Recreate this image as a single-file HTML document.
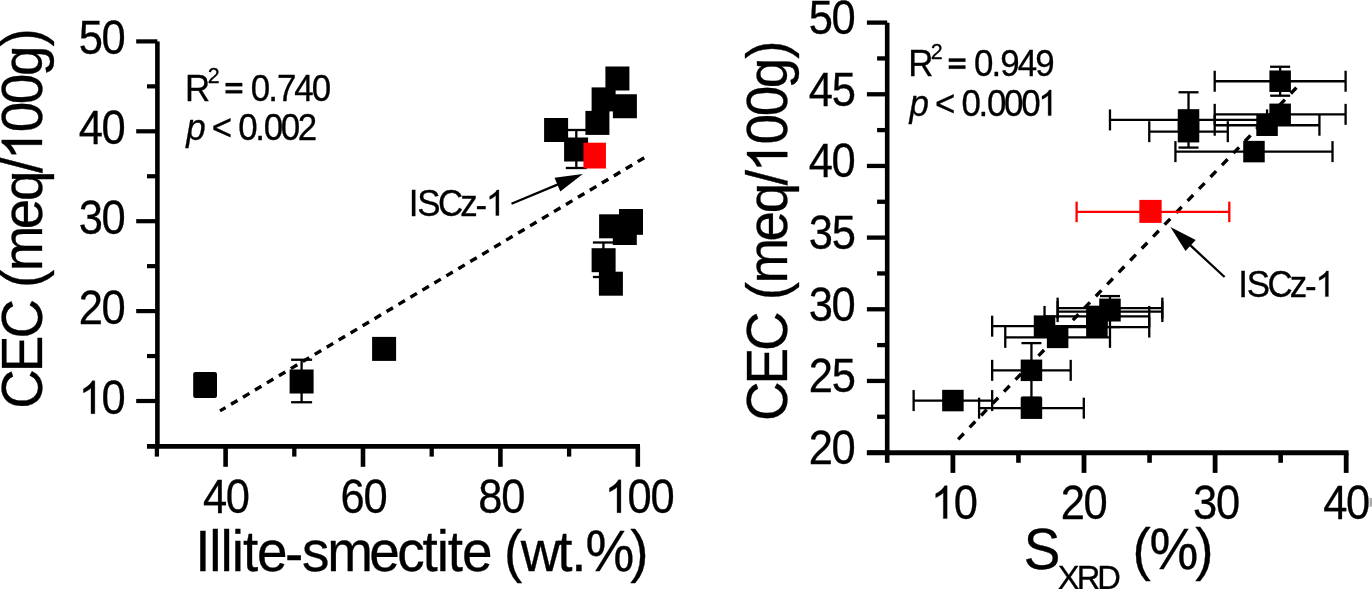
<!DOCTYPE html>
<html><head><meta charset="utf-8"><title>CEC plots</title>
<style>html,body{margin:0;padding:0;background:#fff;overflow:hidden}svg{display:block;will-change:transform}text{font-family:"Liberation Sans",sans-serif;fill:#000}</style>
</head><body>
<svg width="1372" height="589" viewBox="0 0 1372 589">
<rect x="0" y="0" width="1372" height="589" fill="#fff"/>
<g id="left">
<line x1="157.4" y1="41.6" x2="157.4" y2="448.5" stroke="#000" stroke-width="4.6" />
<line x1="147" y1="446.4" x2="640" y2="446.4" stroke="#000" stroke-width="4.8" />
<line x1="136.2" y1="401" x2="157.4" y2="401" stroke="#000" stroke-width="4.2" />
<line x1="136.2" y1="311.1" x2="157.4" y2="311.1" stroke="#000" stroke-width="4.2" />
<line x1="136.2" y1="221.2" x2="157.4" y2="221.2" stroke="#000" stroke-width="4.2" />
<line x1="136.2" y1="131.3" x2="157.4" y2="131.3" stroke="#000" stroke-width="4.2" />
<line x1="136.2" y1="41.4" x2="157.4" y2="41.4" stroke="#000" stroke-width="4.2" />
<line x1="147" y1="356.05" x2="157.4" y2="356.05" stroke="#000" stroke-width="4.2" />
<line x1="147" y1="266.15" x2="157.4" y2="266.15" stroke="#000" stroke-width="4.2" />
<line x1="147" y1="176.25" x2="157.4" y2="176.25" stroke="#000" stroke-width="4.2" />
<line x1="147" y1="86.35" x2="157.4" y2="86.35" stroke="#000" stroke-width="4.2" />
<line x1="225.6" y1="446.4" x2="225.6" y2="466.8" stroke="#000" stroke-width="4.6" />
<line x1="363" y1="446.4" x2="363" y2="466.8" stroke="#000" stroke-width="4.6" />
<line x1="500.4" y1="446.4" x2="500.4" y2="466.8" stroke="#000" stroke-width="4.6" />
<line x1="637.8" y1="446.4" x2="637.8" y2="466.8" stroke="#000" stroke-width="4.6" />
<line x1="156.9" y1="446.4" x2="156.9" y2="456.6" stroke="#000" stroke-width="4.3" />
<line x1="294.3" y1="446.4" x2="294.3" y2="456.6" stroke="#000" stroke-width="4.3" />
<line x1="431.7" y1="446.4" x2="431.7" y2="456.6" stroke="#000" stroke-width="4.3" />
<line x1="569.1" y1="446.4" x2="569.1" y2="456.6" stroke="#000" stroke-width="4.3" />
<g transform="translate(78.63,413.7)" fill="#000" stroke="#000" stroke-width="0.32" stroke-linejoin="round"><text transform="scale(0.90804,1)"><tspan font-size="47.87" x="25.22" y="0">0</tspan></text><path transform="translate(0,0) scale(0.02123,-0.02246)" d="M763 0H583V1147Q518 1085 412.5 1023T223 930V1104Q373 1174.5 485 1275T647 1466H763Z" stroke-width="14.25"/></g>
<g transform="translate(78.63,323.8)" fill="#000" stroke="#000" stroke-width="0.32" stroke-linejoin="round"><text transform="scale(0.90804,1)"><tspan font-size="47.87" x="0 25.22" y="0">20</tspan></text></g>
<g transform="translate(78.63,233.9)" fill="#000" stroke="#000" stroke-width="0.32" stroke-linejoin="round"><text transform="scale(0.90804,1)"><tspan font-size="47.87" x="0 25.22" y="0">30</tspan></text></g>
<g transform="translate(78.63,144)" fill="#000" stroke="#000" stroke-width="0.32" stroke-linejoin="round"><text transform="scale(0.90804,1)"><tspan font-size="47.87" x="0 25.22" y="0">40</tspan></text></g>
<g transform="translate(78.63,54.1)" fill="#000" stroke="#000" stroke-width="0.32" stroke-linejoin="round"><text transform="scale(0.90804,1)"><tspan font-size="47.87" x="0 25.22" y="0">50</tspan></text></g>
<g transform="translate(202.91,512.8)" fill="#000" stroke="#000" stroke-width="0.32" stroke-linejoin="round"><text transform="scale(0.90804,1)"><tspan font-size="47.87" x="0 25.22" y="0">40</tspan></text></g>
<g transform="translate(340.51,512.8)" fill="#000" stroke="#000" stroke-width="0.32" stroke-linejoin="round"><text transform="scale(0.90804,1)"><tspan font-size="47.87" x="0 25.22" y="0">60</tspan></text></g>
<g transform="translate(478.37,512.8)" fill="#000" stroke="#000" stroke-width="0.32" stroke-linejoin="round"><text transform="scale(0.90804,1)"><tspan font-size="47.87" x="0 25.22" y="0">80</tspan></text></g>
<g transform="translate(604.7,512.8)" fill="#000" stroke="#000" stroke-width="0.32" stroke-linejoin="round"><text transform="scale(0.90804,1)"><tspan font-size="47.87" x="25.22 50.43" y="0">00</tspan></text><path transform="translate(0,0) scale(0.02123,-0.02246)" d="M763 0H583V1147Q518 1085 412.5 1023T223 930V1104Q373 1174.5 485 1275T647 1466H763Z" stroke-width="14.25"/></g>
<g transform="translate(195.23,571.3)" fill="#000" stroke="#000" stroke-width="0.32" stroke-linejoin="round"><text transform="scale(0.96726,1)"><tspan font-size="56.75" x="0 14.51 26.11 37.72 49.32 63.83" y="0">Illite</tspan><tspan font-size="56.75" x="92.88" y="1.7">-</tspan><tspan font-size="56.75" x="110.27 136.39 179.9 208.94 235.06 249.57 261.17 275.68 319.24 336.64 374.35 388.86 403.38 449.82" y="0">smectite(wt.%)</tspan></text></g>
<g transform="translate(42,408.69) rotate(-90)" fill="#000" stroke="#000" stroke-width="0.32" stroke-linejoin="round"><text transform="scale(0.96726,1)"><tspan font-size="56.75" x="0 37.71 72.53 124.75 142.13 185.63 214.67 243.71 285.8 314.84 343.88 374.37" y="0">CEC(meq/00g)</tspan></text><path transform="translate(248.36,0) scale(0.02680,-0.02749)" d="M763 0H583V1147Q518 1085 412.5 1023T223 930V1104Q373 1174.5 485 1275T647 1466H763Z" stroke-width="11.64"/></g>
<g transform="translate(185.04,100.6)" fill="#000" stroke="#000" stroke-width="0.32" stroke-linejoin="round"><text transform="scale(0.94660,1)"><tspan font-size="36.87" x="0" y="0">R</tspan><tspan font-size="22.66" x="23.91" y="-17.3">2</tspan><tspan font-size="36.87" x="69.42 87.83 97.03 115.45 133.86" y="0">0.740</tspan></text><path transform="translate(38.7,0) scale(0.01704,-0.01748)" d="M1082 822H114V1000H1082ZM1082 417H114V595H1082Z" stroke-width="18.31"/></g>
<g transform="translate(186.37,139.9)" fill="#000" stroke="#000" stroke-width="0.32" stroke-linejoin="round"><text transform="scale(0.94660,1)"><tspan font-size="36.87" x="0" y="0" font-style="italic">p</tspan><tspan font-size="36.87" x="26.94 54.78 72.75 81.72 99.69 117.66" y="0">&lt;0.002</tspan></text></g>
<g transform="translate(408.78,215.6)" fill="#000" stroke="#000" stroke-width="0.32" stroke-linejoin="round"><text transform="scale(0.94660,1)"><tspan font-size="36.87" x="0 9.05 30.79 54.32" y="0">ISCz</tspan><tspan font-size="36.87" x="70.62" y="1.3">-</tspan></text><path transform="translate(77.12,0) scale(0.01704,-0.01748)" d="M763 0H583V1147Q518 1085 412.5 1023T223 930V1104Q373 1174.5 485 1275T647 1466H763Z" stroke-width="18.31"/></g>
<line x1="644.2" y1="157.8" x2="220" y2="410.9" stroke="#000" stroke-width="3.4" stroke-dasharray="7.5 6.43"/>
<line x1="576.3" y1="130" x2="576.3" y2="168" stroke="#000" stroke-width="2.3" />
<line x1="565.8" y1="130" x2="586.8" y2="130" stroke="#000" stroke-width="2.3" />
<line x1="565.8" y1="168" x2="586.8" y2="168" stroke="#000" stroke-width="2.3" />
<line x1="603.4" y1="242.5" x2="603.4" y2="277" stroke="#000" stroke-width="2.3" />
<line x1="592.9" y1="242.5" x2="613.9" y2="242.5" stroke="#000" stroke-width="2.3" />
<line x1="592.9" y1="277" x2="613.9" y2="277" stroke="#000" stroke-width="2.3" />
<line x1="301.6" y1="359.75" x2="301.6" y2="402.25" stroke="#000" stroke-width="2.3" />
<line x1="291.1" y1="359.75" x2="312.1" y2="359.75" stroke="#000" stroke-width="2.3" />
<line x1="291.1" y1="402.25" x2="312.1" y2="402.25" stroke="#000" stroke-width="2.3" />
<rect x="605.4" y="66.5" width="24" height="24" fill="#000"/>
<rect x="591.6" y="87.4" width="24" height="24" fill="#000"/>
<rect x="612.9" y="94.25" width="24" height="24" fill="#000"/>
<rect x="585.4" y="110.9" width="24" height="24" fill="#000"/>
<rect x="544.1" y="118" width="24" height="24" fill="#000"/>
<rect x="564.1" y="137.5" width="24" height="24" fill="#000"/>
<rect x="599.1" y="214.3" width="24" height="24" fill="#000"/>
<rect x="612.8" y="221" width="24" height="24" fill="#000"/>
<rect x="591.6" y="248.2" width="24" height="24" fill="#000"/>
<rect x="598.9" y="271.7" width="24" height="24" fill="#000"/>
<rect x="372.1" y="336.9" width="24" height="24" fill="#000"/>
<rect x="289.6" y="369.5" width="24" height="24" fill="#000"/>
<rect x="193.2" y="372.0" width="23.8" height="26.0" rx="2.2" fill="#000"/>
<rect x="619" y="209" width="24" height="25.8" fill="#000"/>
<rect x="583.45" y="142.7" width="22.5" height="25.8" fill="#ff0000"/>
<line x1="511.5" y1="203.8" x2="559.26" y2="183.91" stroke="#000" stroke-width="2.3" />
<polygon points="582.8,174.1 560.3,191.6 554.53,177.75" fill="#000"/>
</g>
<g id="right">
<line x1="887.2" y1="22.81" x2="887.2" y2="454.8" stroke="#000" stroke-width="4.6" />
<line x1="866.9" y1="452.7" x2="1348.5" y2="452.7" stroke="#000" stroke-width="4.9" />
<line x1="866.9" y1="452.6" x2="887.2" y2="452.6" stroke="#000" stroke-width="4.3" />
<line x1="866.9" y1="380.94" x2="887.2" y2="380.94" stroke="#000" stroke-width="4.3" />
<line x1="866.9" y1="309.27" x2="887.2" y2="309.27" stroke="#000" stroke-width="4.3" />
<line x1="866.9" y1="237.61" x2="887.2" y2="237.61" stroke="#000" stroke-width="4.3" />
<line x1="866.9" y1="165.94" x2="887.2" y2="165.94" stroke="#000" stroke-width="4.3" />
<line x1="866.9" y1="94.28" x2="887.2" y2="94.28" stroke="#000" stroke-width="4.3" />
<line x1="866.9" y1="22.61" x2="887.2" y2="22.61" stroke="#000" stroke-width="4.3" />
<line x1="877.1" y1="416.77" x2="887.2" y2="416.77" stroke="#000" stroke-width="4.3" />
<line x1="877.1" y1="345.1" x2="887.2" y2="345.1" stroke="#000" stroke-width="4.3" />
<line x1="877.1" y1="273.44" x2="887.2" y2="273.44" stroke="#000" stroke-width="4.3" />
<line x1="877.1" y1="201.77" x2="887.2" y2="201.77" stroke="#000" stroke-width="4.3" />
<line x1="877.1" y1="130.11" x2="887.2" y2="130.11" stroke="#000" stroke-width="4.3" />
<line x1="877.1" y1="58.44" x2="887.2" y2="58.44" stroke="#000" stroke-width="4.3" />
<line x1="952.9" y1="452.7" x2="952.9" y2="472.9" stroke="#000" stroke-width="4.8" />
<line x1="1084" y1="452.7" x2="1084" y2="472.9" stroke="#000" stroke-width="4.8" />
<line x1="1215.1" y1="452.7" x2="1215.1" y2="472.9" stroke="#000" stroke-width="4.8" />
<line x1="1346.2" y1="452.7" x2="1346.2" y2="472.9" stroke="#000" stroke-width="4.8" />
<line x1="1018.45" y1="452.7" x2="1018.45" y2="462.8" stroke="#000" stroke-width="4.6" />
<line x1="1149.55" y1="452.7" x2="1149.55" y2="462.8" stroke="#000" stroke-width="4.6" />
<line x1="1280.65" y1="452.7" x2="1280.65" y2="462.8" stroke="#000" stroke-width="4.6" />
<line x1="887.2" y1="452.7" x2="887.2" y2="462.8" stroke="#000" stroke-width="4.6" />
<g transform="translate(808.63,464.1)" fill="#000" stroke="#000" stroke-width="0.32" stroke-linejoin="round"><text transform="scale(0.90804,1)"><tspan font-size="47.87" x="0 25.22" y="0">20</tspan></text></g>
<g transform="translate(808.75,392.44)" fill="#000" stroke="#000" stroke-width="0.32" stroke-linejoin="round"><text transform="scale(0.90804,1)"><tspan font-size="47.87" x="0 25.22" y="0">25</tspan></text></g>
<g transform="translate(808.63,320.77)" fill="#000" stroke="#000" stroke-width="0.32" stroke-linejoin="round"><text transform="scale(0.90804,1)"><tspan font-size="47.87" x="0 25.22" y="0">30</tspan></text></g>
<g transform="translate(808.75,249.11)" fill="#000" stroke="#000" stroke-width="0.32" stroke-linejoin="round"><text transform="scale(0.90804,1)"><tspan font-size="47.87" x="0 25.22" y="0">35</tspan></text></g>
<g transform="translate(808.63,177.44)" fill="#000" stroke="#000" stroke-width="0.32" stroke-linejoin="round"><text transform="scale(0.90804,1)"><tspan font-size="47.87" x="0 25.22" y="0">40</tspan></text></g>
<g transform="translate(808.75,105.78)" fill="#000" stroke="#000" stroke-width="0.32" stroke-linejoin="round"><text transform="scale(0.90804,1)"><tspan font-size="47.87" x="0 25.22" y="0">45</tspan></text></g>
<g transform="translate(808.63,34.11)" fill="#000" stroke="#000" stroke-width="0.32" stroke-linejoin="round"><text transform="scale(0.90804,1)"><tspan font-size="47.87" x="0 25.22" y="0">50</tspan></text></g>
<g transform="translate(930.95,518.6)" fill="#000" stroke="#000" stroke-width="0.32" stroke-linejoin="round"><text transform="scale(0.90804,1)"><tspan font-size="47.87" x="25.22" y="0">0</tspan></text><path transform="translate(0,0) scale(0.02123,-0.02246)" d="M763 0H583V1147Q518 1085 412.5 1023T223 930V1104Q373 1174.5 485 1275T647 1466H763Z" stroke-width="14.25"/></g>
<g transform="translate(1060.72,518.6)" fill="#000" stroke="#000" stroke-width="0.32" stroke-linejoin="round"><text transform="scale(0.90804,1)"><tspan font-size="47.87" x="0 25.22" y="0">20</tspan></text></g>
<g transform="translate(1193.08,518.6)" fill="#000" stroke="#000" stroke-width="0.32" stroke-linejoin="round"><text transform="scale(0.90804,1)"><tspan font-size="47.87" x="0 25.22" y="0">30</tspan></text></g>
<g transform="translate(1323.2,518.6)" fill="#000" stroke="#000" stroke-width="0.32" stroke-linejoin="round"><text transform="scale(0.90804,1)"><tspan font-size="47.87" x="0 25.22" y="0">40</tspan></text></g>
<g transform="translate(1023.81,569.2)" fill="#000" stroke="#000" stroke-width="0.32" stroke-linejoin="round"><text transform="scale(0.96726,1)"><tspan font-size="56.75" x="0" y="0">S</tspan></text></g>
<g transform="translate(1057.67,589.2)" fill="#000" stroke="#000" stroke-width="0.32" stroke-linejoin="round"><text transform="scale(0.96726,1)"><tspan font-size="33.77" x="0 19.66 40.95" y="0">XRD</tspan></text></g>
<g transform="translate(1132.4,569.2)" fill="#000" stroke="#000" stroke-width="0.32" stroke-linejoin="round"><text transform="scale(0.96726,1)"><tspan font-size="56.75" x="0 17.73 65.06" y="0">(%)</tspan></text></g>
<rect x="1369.6" y="498" width="2.4" height="8.7" fill="#aaa"/>
<g transform="translate(787.3,421.09) rotate(-90)" fill="#000" stroke="#000" stroke-width="0.32" stroke-linejoin="round"><text transform="scale(0.96726,1)"><tspan font-size="56.75" x="0 37.74 72.59 124.85 142.25 185.78 214.85 243.91 286.04 315.11 344.17 374.68" y="0">CEC(meq/00g)</tspan></text><path transform="translate(248.57,0) scale(0.02680,-0.02749)" d="M763 0H583V1147Q518 1085 412.5 1023T223 930V1104Q373 1174.5 485 1275T647 1466H763Z" stroke-width="11.64"/></g>
<g transform="translate(908.14,76)" fill="#000" stroke="#000" stroke-width="0.32" stroke-linejoin="round"><text transform="scale(0.94660,1)"><tspan font-size="36.87" x="0" y="0">R</tspan><tspan font-size="22.66" x="23.97" y="-17.3">2</tspan><tspan font-size="36.87" x="69.58 88.03 97.25 115.71 134.17" y="0">0.949</tspan></text><path transform="translate(38.79,0) scale(0.01704,-0.01748)" d="M1082 822H114V1000H1082ZM1082 417H114V595H1082Z" stroke-width="18.31"/></g>
<g transform="translate(909.47,115.6)" fill="#000" stroke="#000" stroke-width="0.32" stroke-linejoin="round"><text transform="scale(0.94660,1)"><tspan font-size="36.87" x="0" y="0" font-style="italic">p</tspan><tspan font-size="36.87" x="27.01 54.93 72.94 81.94 99.96 117.97" y="0">&lt;0.000</tspan></text><path transform="translate(128.73,0) scale(0.01704,-0.01748)" d="M763 0H583V1147Q518 1085 412.5 1023T223 930V1104Q373 1174.5 485 1275T647 1466H763Z" stroke-width="18.31"/></g>
<g transform="translate(1238.28,296.6)" fill="#000" stroke="#000" stroke-width="0.32" stroke-linejoin="round"><text transform="scale(0.94660,1)"><tspan font-size="36.87" x="0 9.05 30.79 54.32" y="0">ISCz</tspan><tspan font-size="36.87" x="70.62" y="1.3">-</tspan></text><path transform="translate(77.12,0) scale(0.01704,-0.01748)" d="M763 0H583V1147Q518 1085 412.5 1023T223 930V1104Q373 1174.5 485 1275T647 1466H763Z" stroke-width="18.31"/></g>
<line x1="1296.7" y1="87.4" x2="957.25" y2="440.25" stroke="#000" stroke-width="3.4" stroke-dasharray="8.1 8.445" stroke-dashoffset="-0.41"/>
<line x1="1214.7" y1="81.23" x2="1345.6" y2="81.23" stroke="#000" stroke-width="2.3" />
<line x1="1214.7" y1="70.73" x2="1214.7" y2="91.73" stroke="#000" stroke-width="2.3" />
<line x1="1345.6" y1="70.73" x2="1345.6" y2="91.73" stroke="#000" stroke-width="2.3" />
<line x1="1280.15" y1="66.76" x2="1280.15" y2="95.71" stroke="#000" stroke-width="2.3" />
<line x1="1270.15" y1="66.76" x2="1290.15" y2="66.76" stroke="#000" stroke-width="2.3" />
<line x1="1270.15" y1="95.71" x2="1290.15" y2="95.71" stroke="#000" stroke-width="2.3" />
<line x1="1214.7" y1="114.34" x2="1345.6" y2="114.34" stroke="#000" stroke-width="2.3" />
<line x1="1214.7" y1="103.84" x2="1214.7" y2="124.84" stroke="#000" stroke-width="2.3" />
<line x1="1345.6" y1="103.84" x2="1345.6" y2="124.84" stroke="#000" stroke-width="2.3" />
<line x1="1214.7" y1="125.23" x2="1319.42" y2="125.23" stroke="#000" stroke-width="2.3" />
<line x1="1214.7" y1="114.73" x2="1214.7" y2="135.73" stroke="#000" stroke-width="2.3" />
<line x1="1319.42" y1="114.73" x2="1319.42" y2="135.73" stroke="#000" stroke-width="2.3" />
<line x1="1109.98" y1="119.93" x2="1267.06" y2="119.93" stroke="#000" stroke-width="2.3" />
<line x1="1109.98" y1="109.43" x2="1109.98" y2="130.43" stroke="#000" stroke-width="2.3" />
<line x1="1267.06" y1="109.43" x2="1267.06" y2="130.43" stroke="#000" stroke-width="2.3" />
<line x1="1188.52" y1="92.27" x2="1188.52" y2="147.59" stroke="#000" stroke-width="2.3" />
<line x1="1178.52" y1="92.27" x2="1198.52" y2="92.27" stroke="#000" stroke-width="2.3" />
<line x1="1178.52" y1="147.59" x2="1198.52" y2="147.59" stroke="#000" stroke-width="2.3" />
<line x1="1149.25" y1="131.68" x2="1227.79" y2="131.68" stroke="#000" stroke-width="2.3" />
<line x1="1149.25" y1="121.18" x2="1149.25" y2="142.18" stroke="#000" stroke-width="2.3" />
<line x1="1227.79" y1="121.18" x2="1227.79" y2="142.18" stroke="#000" stroke-width="2.3" />
<line x1="1175.43" y1="151.61" x2="1332.51" y2="151.61" stroke="#000" stroke-width="2.3" />
<line x1="1175.43" y1="141.11" x2="1175.43" y2="162.11" stroke="#000" stroke-width="2.3" />
<line x1="1332.51" y1="141.11" x2="1332.51" y2="162.11" stroke="#000" stroke-width="2.3" />
<line x1="913.63" y1="400.57" x2="992.17" y2="400.57" stroke="#000" stroke-width="2.3" />
<line x1="913.63" y1="390.07" x2="913.63" y2="411.07" stroke="#000" stroke-width="2.3" />
<line x1="992.17" y1="390.07" x2="992.17" y2="411.07" stroke="#000" stroke-width="2.3" />
<line x1="979.08" y1="408.17" x2="1083.8" y2="408.17" stroke="#000" stroke-width="2.3" />
<line x1="979.08" y1="397.67" x2="979.08" y2="418.67" stroke="#000" stroke-width="2.3" />
<line x1="1083.8" y1="397.67" x2="1083.8" y2="418.67" stroke="#000" stroke-width="2.3" />
<line x1="992.17" y1="370.33" x2="1070.71" y2="370.33" stroke="#000" stroke-width="2.3" />
<line x1="992.17" y1="359.83" x2="992.17" y2="380.83" stroke="#000" stroke-width="2.3" />
<line x1="1070.71" y1="359.83" x2="1070.71" y2="380.83" stroke="#000" stroke-width="2.3" />
<line x1="1031.44" y1="343.1" x2="1031.44" y2="397.56" stroke="#000" stroke-width="2.3" />
<line x1="1021.44" y1="343.1" x2="1041.44" y2="343.1" stroke="#000" stroke-width="2.3" />
<line x1="1021.44" y1="397.56" x2="1041.44" y2="397.56" stroke="#000" stroke-width="2.3" />
<line x1="992.17" y1="326.18" x2="1096.89" y2="326.18" stroke="#000" stroke-width="2.3" />
<line x1="992.17" y1="315.68" x2="992.17" y2="336.68" stroke="#000" stroke-width="2.3" />
<line x1="1096.89" y1="315.68" x2="1096.89" y2="336.68" stroke="#000" stroke-width="2.3" />
<line x1="1005.26" y1="337.36" x2="1109.98" y2="337.36" stroke="#000" stroke-width="2.3" />
<line x1="1005.26" y1="326.86" x2="1005.26" y2="347.86" stroke="#000" stroke-width="2.3" />
<line x1="1109.98" y1="326.86" x2="1109.98" y2="347.86" stroke="#000" stroke-width="2.3" />
<line x1="1044.53" y1="316.44" x2="1149.25" y2="316.44" stroke="#000" stroke-width="2.3" />
<line x1="1044.53" y1="305.94" x2="1044.53" y2="326.94" stroke="#000" stroke-width="2.3" />
<line x1="1149.25" y1="305.94" x2="1149.25" y2="326.94" stroke="#000" stroke-width="2.3" />
<line x1="1044.53" y1="327.04" x2="1149.25" y2="327.04" stroke="#000" stroke-width="2.3" />
<line x1="1044.53" y1="316.54" x2="1044.53" y2="337.54" stroke="#000" stroke-width="2.3" />
<line x1="1149.25" y1="316.54" x2="1149.25" y2="337.54" stroke="#000" stroke-width="2.3" />
<line x1="1057.62" y1="308.12" x2="1162.34" y2="308.12" stroke="#000" stroke-width="2.3" />
<line x1="1057.62" y1="297.62" x2="1057.62" y2="318.62" stroke="#000" stroke-width="2.3" />
<line x1="1162.34" y1="297.62" x2="1162.34" y2="318.62" stroke="#000" stroke-width="2.3" />
<line x1="1057.62" y1="311.56" x2="1162.34" y2="311.56" stroke="#000" stroke-width="2.3" />
<line x1="1057.62" y1="301.06" x2="1057.62" y2="322.06" stroke="#000" stroke-width="2.3" />
<line x1="1162.34" y1="301.06" x2="1162.34" y2="322.06" stroke="#000" stroke-width="2.3" />
<line x1="1109.98" y1="296.08" x2="1109.98" y2="327.04" stroke="#000" stroke-width="2.3" />
<line x1="1099.98" y1="296.08" x2="1119.98" y2="296.08" stroke="#000" stroke-width="2.3" />
<line x1="1099.98" y1="327.04" x2="1119.98" y2="327.04" stroke="#000" stroke-width="2.3" />
<rect x="1269.4" y="70.48" width="21.5" height="21.5" fill="#000"/>
<rect x="1269.4" y="103.59" width="21.5" height="21.5" fill="#000"/>
<rect x="1256.31" y="114.48" width="21.5" height="21.5" fill="#000"/>
<rect x="1177.77" y="109.18" width="21.5" height="21.5" fill="#000"/>
<rect x="1177.77" y="120.93" width="21.5" height="21.5" fill="#000"/>
<rect x="1243.22" y="140.86" width="21.5" height="21.5" fill="#000"/>
<rect x="942.15" y="389.82" width="21.5" height="21.5" fill="#000"/>
<rect x="1020.69" y="397.42" width="21.5" height="21.5" fill="#000"/>
<rect x="1020.69" y="359.58" width="21.5" height="21.5" fill="#000"/>
<rect x="1033.78" y="315.43" width="21.5" height="21.5" fill="#000"/>
<rect x="1046.87" y="326.61" width="21.5" height="21.5" fill="#000"/>
<rect x="1086.14" y="305.69" width="21.5" height="21.5" fill="#000"/>
<rect x="1086.14" y="316.29" width="21.5" height="21.5" fill="#000"/>
<rect x="1099.23" y="298.6" width="21.5" height="22.9" fill="#000"/>
<line x1="1076.6" y1="211.9" x2="1229.3" y2="211.9" stroke="#ff0000" stroke-width="2.3" />
<line x1="1076.6" y1="201.65" x2="1076.6" y2="222.15" stroke="#ff0000" stroke-width="2.3" />
<line x1="1229.3" y1="201.65" x2="1229.3" y2="222.15" stroke="#ff0000" stroke-width="2.3" />
<rect x="1139.35" y="199.9" width="22.3" height="23" fill="#ff0000"/>
<line x1="1224.6" y1="277" x2="1189.13" y2="244.21" stroke="#000" stroke-width="2.3" />
<polygon points="1170.4,226.9 1195.69,240.06 1185.5,251.07" fill="#000"/>
</g>
</svg></body></html>
